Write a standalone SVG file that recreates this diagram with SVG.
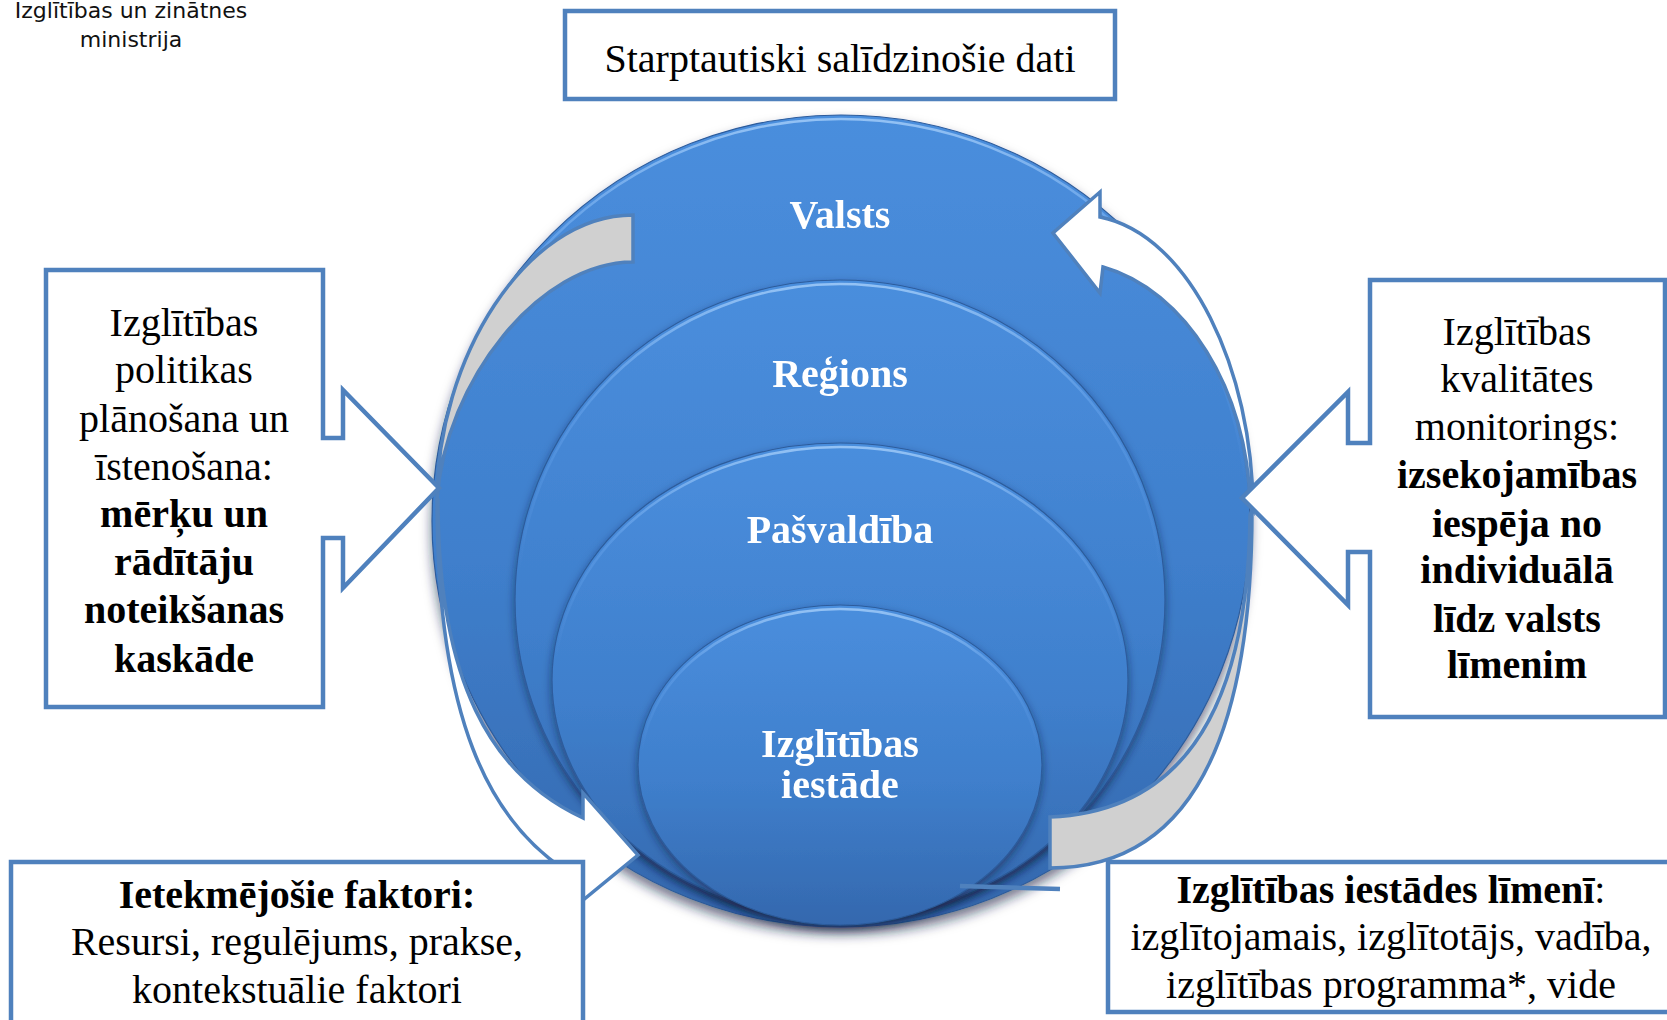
<svg xmlns="http://www.w3.org/2000/svg" width="1667" height="1020" viewBox="0 0 1667 1020">
<defs>
<linearGradient id="gBlue" x1="0" y1="0" x2="0" y2="1">
<stop offset="0" stop-color="#4A8EDD"/>
<stop offset="0.55" stop-color="#3F7FCC"/>
<stop offset="1" stop-color="#3468AE"/>
</linearGradient>
<linearGradient id="gRim" x1="0" y1="0" x2="0" y2="1">
<stop offset="0" stop-color="#9CC8F7" stop-opacity="0.9"/>
<stop offset="0.2" stop-color="#6AA6EE" stop-opacity="0.45"/>
<stop offset="0.45" stop-color="#6AA6EE" stop-opacity="0"/>
</linearGradient>
<filter id="sh" x="-10%" y="-10%" width="120%" height="125%">
<feDropShadow dx="0" dy="4" stdDeviation="4" flood-color="#0B1F3F" flood-opacity="0.55"/>
</filter>
<filter id="shBig" x="-10%" y="-10%" width="120%" height="125%">
<feDropShadow dx="0" dy="7" stdDeviation="6" flood-color="#0B1F3F" flood-opacity="0.6"/>
</filter>
</defs>
<style>
.lvl{fill:url(#gBlue);stroke:#2D5C9C;stroke-width:1.2}
.rim{fill:none;stroke:url(#gRim);stroke-width:2.5}
.lbl{font-family:"Liberation Serif","Times New Roman",serif;font-size:40px;font-weight:bold;fill:#fff;text-anchor:middle}
.box{fill:#fff;stroke:#4F81BD;stroke-width:4.5}
.txt{font-family:"Liberation Serif","Times New Roman",serif;font-size:40px;fill:#000;text-anchor:middle}
.b{font-weight:bold}
.nb{font-weight:normal}
.arrG{fill:#D0D0D0;stroke:#4F81BD;stroke-width:3.5}
.arrW{fill:#fff;stroke:#4F81BD;stroke-width:3.5}
.logo{font-family:"DejaVu Sans",sans-serif;font-size:22px;fill:#111;text-anchor:middle}
</style>

<g id="logo">
<text class="logo" x="131" y="18">Izglītības un zinātnes</text>
<text class="logo" x="131" y="47">ministrija</text>
</g>

<g id="valsts" filter="url(#shBig)">
<ellipse class="lvl" cx="841" cy="521" rx="409" ry="406"/>
<ellipse class="rim" cx="841" cy="522" rx="406" ry="403"/>
<text class="lbl" x="840" y="228">Valsts</text>
</g>
<g id="regions" filter="url(#sh)">
<ellipse class="lvl" cx="840" cy="600" rx="325" ry="320"/>
<ellipse class="rim" cx="840" cy="601" rx="322" ry="317"/>
<text class="lbl" x="840" y="387">Reģions</text>
</g>
<g id="pasvaldiba" filter="url(#sh)">
<ellipse class="lvl" cx="840" cy="680" rx="288" ry="237"/>
<ellipse class="rim" cx="840" cy="681" rx="285" ry="234"/>
<text class="lbl" x="840" y="543">Pašvaldība</text>
</g>
<g id="iestade" filter="url(#sh)">
<ellipse class="lvl" cx="840" cy="765" rx="202" ry="160"/>
<ellipse class="rim" cx="840" cy="766" rx="199" ry="157"/>
<text class="lbl" x="840" y="757">Izglītības</text>
<text class="lbl" x="840" y="798">iestāde</text>
</g>

<g id="connectors">
<path class="arrG" d="M633,215 C525,215 437,360 437,500 C445,380 540,262 633,262 Z"/>
<path class="arrW" d="M437,500 C437,720 490,820 565,870 L577,905 L638,855 L583,793 L583,818 C490,775 438,680 438,500 Z"/>
<path class="arrG" d="M1252,510 C1252,740 1190,868 1050,868 L1050,817 C1175,812 1248,720 1250,515 Z"/>
<path class="arrW" d="M1250,505 C1248,390 1185,290 1103,267 L1100,293 L1053,233 L1100,192 L1100,217 C1190,235 1253,370 1253,510 Z"/>
<line x1="960" y1="886" x2="1060" y2="889" stroke="#4F81BD" stroke-width="4.5"/>
</g>

<g id="top-box">
<rect class="box" x="565" y="11" width="550" height="88"/>
<text class="txt" x="840" y="72">Starptautiski salīdzinošie dati</text>
</g>

<g id="left-callout">
<path class="box" d="M46,270 L323,270 L323,438 L343,438 L343,390 L439,488 L343,588 L343,538 L323,538 L323,707 L46,707 Z"/>
<text class="txt" x="184" y="336">Izglītības</text>
<text class="txt" x="184" y="383">politikas</text>
<text class="txt" x="184" y="432">plānošana un</text>
<text class="txt" x="184" y="480">īstenošana:</text>
<text class="txt b" x="184" y="527">mērķu un</text>
<text class="txt b" x="184" y="575">rādītāju</text>
<text class="txt b" x="184" y="623">noteikšanas</text>
<text class="txt b" x="184" y="672">kaskāde</text>
</g>

<g id="right-callout">
<path class="box" d="M1370,280 L1665,280 L1665,717 L1370,717 L1370,552 L1348,552 L1348,605 L1242,498 L1348,392 L1348,443 L1370,443 Z"/>
<text class="txt" x="1517" y="345">Izglītības</text>
<text class="txt" x="1517" y="392">kvalitātes</text>
<text class="txt" x="1517" y="440">monitorings:</text>
<text class="txt b" x="1517" y="488">izsekojamības</text>
<text class="txt b" x="1517" y="537">iespēja no</text>
<text class="txt b" x="1517" y="583">individuālā</text>
<text class="txt b" x="1517" y="632">līdz valsts</text>
<text class="txt b" x="1517" y="678">līmenim</text>
</g>

<g id="factors-box">
<rect class="box" x="11" y="862" width="572" height="170"/>
<text class="txt b" x="297" y="908">Ietekmējošie faktori:</text>
<text class="txt" x="297" y="955">Resursi, regulējums, prakse,</text>
<text class="txt" x="297" y="1003">kontekstuālie faktori</text>
</g>

<g id="institution-box">
<rect class="box" x="1108" y="862" width="570" height="150"/>
<text class="txt" x="1391" y="903"><tspan class="b">Izglītības iestādes līmenī</tspan>:</text>
<text class="txt" x="1391" y="950">izglītojamais, izglītotājs, vadība,</text>
<text class="txt" x="1391" y="998">izglītības programma*, vide</text>
</g>
</svg>
